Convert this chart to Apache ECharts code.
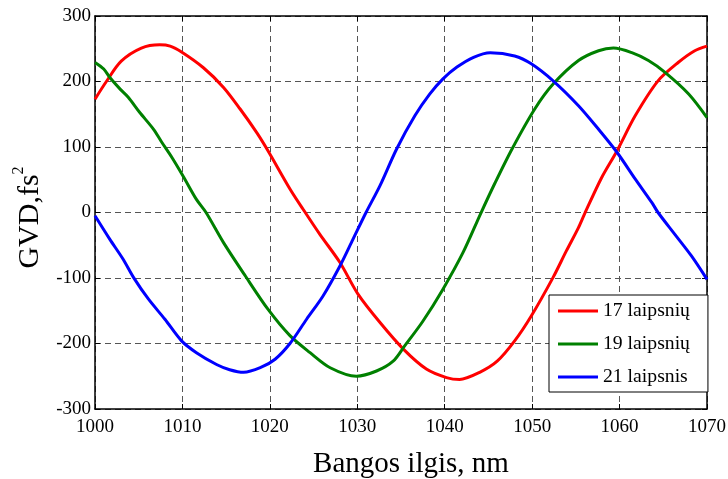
<!DOCTYPE html>
<html><head><meta charset="utf-8">
<script src="https://cdn.jsdelivr.net/npm/echarts@6/dist/echarts.min.js"></script>
<style>html,body{margin:0;padding:0;background:#fff}#c{width:728px;height:479px}</style>
</head><body><div id="c"></div>
<script>
const seriesNames = ['17 laipsnių', '19 laipsnių', '21 laipsnis'];
const redX = [1000, 1001.3, 1003.0, 1005.3, 1007.4, 1008.6, 1009.9, 1012.4, 1014.7, 1016.6, 1018.5, 1019.8, 1022.3, 1023.8, 1025.7, 1028.0, 1030.1, 1032.6, 1035.3, 1037.9, 1040.2, 1041.7, 1044.0, 1046.0, 1048.0, 1049.9, 1052.4, 1053.9, 1055.3, 1056.0, 1057.9, 1059.7, 1061.8, 1064.4, 1066.7, 1068.6, 1070];
const redY = [173, 200, 231, 251, 256, 254, 245, 221, 191, 158, 122, 94, 36, 5, -33, -76, -125, -168, -209, -239, -252, -255, -244, -227, -196, -158, -99, -59, -23, -2, 52, 94, 148, 201, 229, 247, 254];
const greenX = [1000, 1001.0, 1001.7, 1002.9, 1003.8, 1005.1, 1006.7, 1007.6, 1008.8, 1010.1, 1011.6, 1012.7, 1014.7, 1017.2, 1019.8, 1022.3, 1024.6, 1026.9, 1029.9, 1032.2, 1034.1, 1035.4, 1037.5, 1039.8, 1042.1, 1044.1, 1045.75, 1047.7, 1050.3, 1052.4, 1055.3, 1057.6, 1059.3, 1061.4, 1063.3, 1065.2, 1067.9, 1070];
const greenY = [229, 219, 206, 188, 176, 153, 127, 108, 84, 55, 20, 0, -46, -97, -148, -188, -214, -237, -250, -242, -227, -204, -166, -117, -61, -2, 45, 97, 158, 196, 232, 247, 251, 244, 232, 214, 181, 145];
const blueX = [1000, 1001.7, 1003.2, 1004.4, 1006.1, 1008.0, 1009.9, 1011.6, 1013.9, 1015.4, 1017.0, 1018.9, 1020.6, 1022.3, 1024.2, 1026.1, 1028.0, 1029.5, 1031.0, 1032.6, 1034.5, 1036.6, 1038.3, 1039.8, 1041.4, 1043.3, 1045.2, 1048.0, 1049.9, 1052.4, 1055.3, 1057.6, 1059.7, 1061.8, 1063.7, 1064.4, 1066.3, 1068.2, 1070];
const blueY = [-5, -41, -71, -99, -132, -163, -196, -214, -232, -240, -244, -237, -224, -200, -163, -127, -82, -41, 0, 41, 97, 148, 181, 204, 222, 237, 244, 239, 227, 201, 163, 127, 92, 51, 15, 0, -33, -66, -102];
const xTicks = [1000, 1010, 1020, 1030, 1040, 1050, 1060, 1070];
const yTicks = [-300, -200, -100, 0, 100, 200, 300];

const serif = '"Liberation Serif", "Times New Roman", serif';
const pair = (xs, ys) => xs.map((x, i) => [x, ys[i]]);
const chart = echarts.init(document.getElementById('c'), null, {renderer: 'canvas'});
const gridLine = {show: true, lineStyle: {color: '#555', type: [6, 4], width: 1}};
const tickIn = {show: true, inside: true, length: 5, lineStyle: {color: '#000'}};
const baseX = {type: 'value', min: xTicks[0], max: xTicks[xTicks.length - 1], interval: 10,
  axisLine: {show: true, onZero: false, lineStyle: {color: '#000', width: 1.5}}};
const baseY = {type: 'value', min: yTicks[0], max: yTicks[yTicks.length - 1], interval: 100,
  axisLine: {show: true, onZero: false, lineStyle: {color: '#000', width: 1.5}}};
chart.setOption({
  animation: false,
  backgroundColor: '#fff',
  grid: {left: 95, right: 21, top: 16, bottom: 70, containLabel: false, outerBoundsMode: 'none'},
  xAxis: [
    Object.assign({}, baseX, {position: 'bottom', axisTick: tickIn, splitLine: gridLine,
      axisLabel: {color: '#000', fontFamily: serif, fontSize: 19, margin: 9, formatter: v => String(v)},
      name: 'Bangos ilgis, nm', nameLocation: 'middle', nameGap: 41,
      nameTextStyle: {color: '#000', fontFamily: serif, fontSize: 29, padding: [0, 0, 0, 20]}}),
    Object.assign({}, baseX, {position: 'top', axisTick: tickIn, splitLine: {show: false}, axisLabel: {show: false}})
  ],
  yAxis: [
    Object.assign({}, baseY, {position: 'left', axisTick: tickIn, splitLine: gridLine,
      axisLabel: {color: '#000', fontFamily: serif, fontSize: 19, margin: 4, formatter: v => String(v)},
      name: 'GVD,fs{sup|2}', nameLocation: 'middle', nameGap: 44, nameRotate: 90,
      nameTextStyle: {color: '#000', fontFamily: serif, fontSize: 30, padding: [0, 10, 0, 0],
        rich: {sup: {fontSize: 16, fontFamily: serif, color: '#000', verticalAlign: 'bottom', padding: [0, 0, 22, 0]}}}}),
    Object.assign({}, baseY, {position: 'right', axisTick: tickIn, splitLine: {show: false}, axisLabel: {show: false}})
  ],
  legend: {
    orient: 'vertical', left: 549, top: 295,
    padding: [5, 18, 4, 9], itemGap: 11, itemWidth: 40, itemHeight: 3, icon: 'rect',
    backgroundColor: '#fff', borderColor: '#000', borderWidth: 1,
    textStyle: {color: '#000', fontFamily: serif, fontSize: 19.7, lineHeight: 22},
    data: seriesNames
  },
  series: [
    {name: seriesNames[0], type: 'line', data: pair(redX, redY), color: '#ff0000'},
    {name: seriesNames[1], type: 'line', data: pair(greenX, greenY), color: '#008000'},
    {name: seriesNames[2], type: 'line', data: pair(blueX, blueY), color: '#0000ff'}
  ].map(s => Object.assign(s, {showSymbol: false, symbol: 'none', smooth: 0.3,
    lineStyle: {width: 3, color: s.color}, itemStyle: {color: s.color}}))
});
</script></body></html>
